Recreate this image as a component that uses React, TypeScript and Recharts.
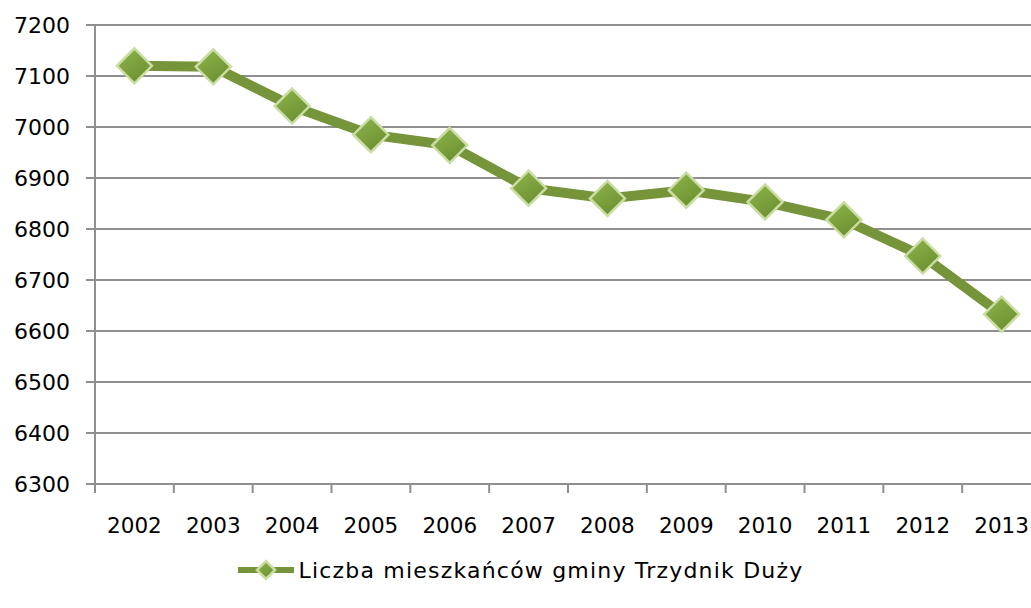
import { LineChart, Line, XAxis, YAxis, CartesianGrid, Legend } from 'recharts';

const YEARS = ['2002', '2003', '2004', '2005', '2006', '2007', '2008', '2009', '2010', '2011', '2012', '2013'];
const RESIDENTS = [7120, 7118, 7041, 6985, 6964, 6880, 6860, 6876, 6853, 6818, 6747, 6633];
const Y_TICKS = [6300, 6400, 6500, 6600, 6700, 6800, 6900, 7000, 7100, 7200];
const SERIES_NAME = 'Liczba mieszkańców gminy Trzydnik Duży';

const data = YEARS.map((year, i) => ({ year, value: RESIDENTS[i] }));

const W = 1041;
const H = 608;
const Y_AXIS_W = 95;
const BAND = (W - Y_AXIS_W) / YEARS.length;
const FONT = '"DejaVu Sans", sans-serif';
const GREEN = '#76953a';
const GRID = '#8f8f8f';
const AXIS_Y = 484;

function Diamond({ cx, cy, r, id }: { cx: number, cy: number, r: number, id: string }) {
  return (
    <g>
      <defs>
        <linearGradient id={id} x1="0" y1="0" x2="0.6" y2="1">
          <stop offset="0%" stopColor="#8fb64d" />
          <stop offset="100%" stopColor="#6c9030" />
        </linearGradient>
      </defs>
      <polygon
        points={`${cx},${cy - r} ${cx + r},${cy} ${cx},${cy + r} ${cx - r},${cy}`}
        fill={`url(#${id})`}
        stroke="#cadda3"
        strokeWidth={2.5}
      />
    </g>
  );
}

function Dot(props: any) {
  const { cx, cy, index } = props;
  if (cx == null || cy == null) return null;
  return <Diamond key={index} cx={cx} cy={cy} r={17.5} id={`dg${index}`} />;
}

function XTick(props: any) {
  const { x, payload } = props;
  const left = x - BAND / 2;
  return (
    <g>
      <line x1={left} y1={AXIS_Y} x2={left} y2={AXIS_Y + 9} stroke={GRID} strokeWidth={2} />
      <text x={x} y={AXIS_Y + 34} dy="0.71em" textAnchor="middle" fontFamily={FONT} fontSize={21.5} fill="#000">
        {payload.value}
      </text>
    </g>
  );
}

function LegendBox() {
  return (
    <div style={{ display: 'flex', justifyContent: 'center', alignItems: 'center', height: 76 }}>
      <svg width={56} height={24} style={{ marginRight: 5 }}>
        <line x1={0} y1={12} x2={56} y2={12} stroke={GREEN} strokeWidth={6} />
        <Diamond cx={28} cy={12} r={9} id="dgLegend" />
      </svg>
      <span style={{ fontFamily: FONT, fontSize: 22, letterSpacing: 1.2, color: '#000' }}>{SERIES_NAME}</span>
    </div>
  );
}

export default function App() {
  return (
    <div style={{ position: 'fixed', left: 0, top: 0, width: 1031, height: 608, overflow: 'hidden', background: '#fff' }}>
      <LineChart width={W} height={H} data={data} margin={{ top: 25, right: 0, left: 0, bottom: 0 }}>
        <CartesianGrid vertical={false} stroke={GRID} strokeWidth={2} />
        <XAxis
          dataKey="year"
          scale="band"
          height={48}
          stroke={GRID}
          strokeWidth={2}
          tickLine={false}
          tick={<XTick />}
          interval={0}
        />
        <YAxis
          width={Y_AXIS_W}
          domain={[6300, 7200]}
          ticks={Y_TICKS}
          interval={0}
          stroke={GRID}
          strokeWidth={2}
          tickSize={9}
          tick={{ fontFamily: FONT, fontSize: 22, fill: '#000', dx: -14 }}
        />
        <Legend verticalAlign="bottom" height={76} content={<LegendBox />} />
        <Line
          type="linear"
          dataKey="value"
          name={SERIES_NAME}
          stroke={GREEN}
          strokeWidth={10}
          dot={<Dot />}
          activeDot={false}
          isAnimationActive={false}
        />
      </LineChart>
    </div>
  );
}
